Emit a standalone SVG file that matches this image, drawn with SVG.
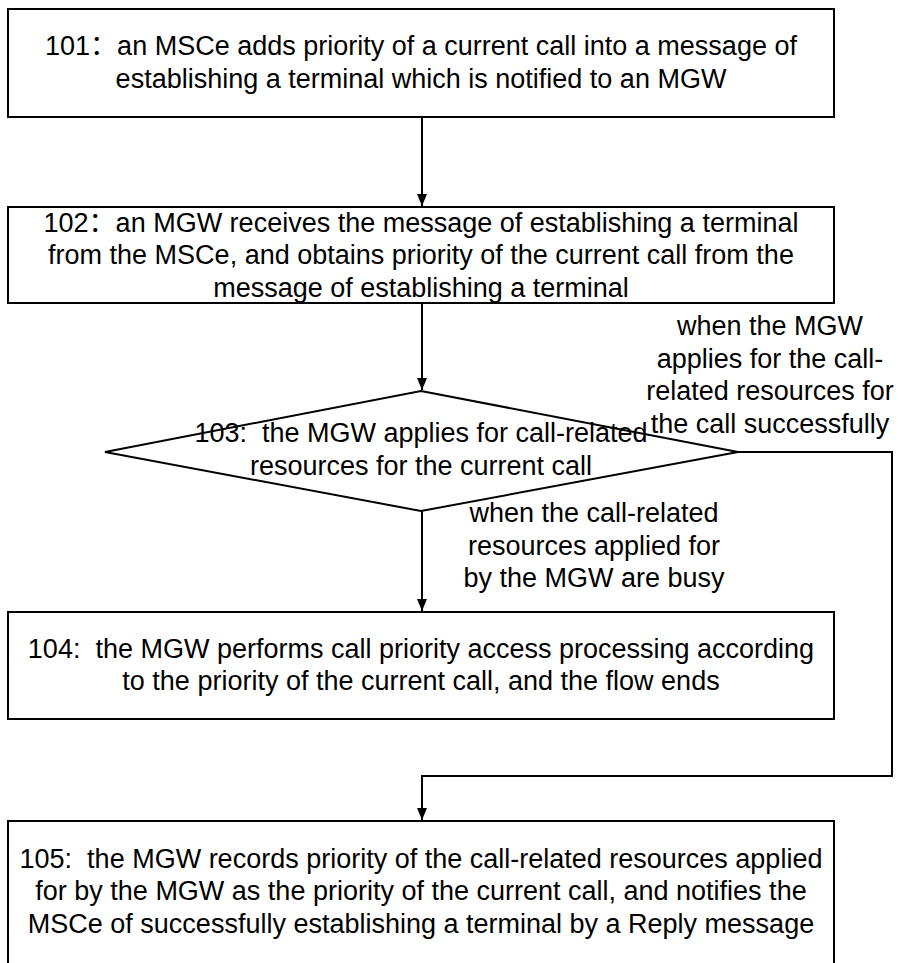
<svg xmlns="http://www.w3.org/2000/svg" width="899" height="963" viewBox="0 0 899 963">
<style>
  .box { fill: #fff; stroke: #000; stroke-width: 2; }
  .ln { fill: none; stroke: #000; stroke-width: 2; }
  text { font-family: "Liberation Sans", Arial, "Noto Sans CJK SC", sans-serif; font-size: 27px; fill: #000; text-anchor: middle; white-space: pre; }
</style>
<defs>
  <marker id="arr" viewBox="0 0 12 10" refX="12" refY="5" markerWidth="12" markerHeight="10" markerUnits="userSpaceOnUse" orient="auto">
    <path d="M0,0 L12,5 L0,10 Z" fill="#000"/>
  </marker>
</defs>
<rect width="899" height="963" fill="#fff"/>
<g id="connectors">
  <line class="ln" x1="422" y1="117" x2="422" y2="206" marker-end="url(#arr)"/>
  <line class="ln" x1="422" y1="303" x2="422" y2="390" marker-end="url(#arr)"/>
  <line class="ln" x1="422" y1="511" x2="422" y2="611" marker-end="url(#arr)"/>
  <polyline class="ln" points="738,452 892,452 892,776 422,776 422,820" marker-end="url(#arr)"/>
</g>
<g id="n101">
  <rect class="box" x="8" y="9" width="826" height="108"/>
  <text x="421" y="55">101：an MSCe adds priority of a current call into a message of</text>
  <text x="421" y="88">establishing a terminal which is notified to an MGW</text>
</g>
<g id="n102">
  <rect class="box" x="8" y="207" width="826" height="96"/>
  <text x="421" y="232">102：an MGW receives the message of establishing a terminal</text>
  <text x="421" y="264">from the MSCe, and obtains priority of the current call from the</text>
  <text x="421" y="297">message of establishing a terminal</text>
</g>
<g id="n103">
  <polygon class="box" points="421,391 738,452 421,511 105,452"/>
  <text x="421" y="442">103:  the MGW applies for call-related</text>
  <text x="421" y="475">resources for the current call</text>
</g>
<g id="label-success">
  <text x="770" y="335">when the MGW</text>
  <text x="770" y="368">applies for the call-</text>
  <text x="770" y="400">related resources for</text>
  <text x="770" y="433">the call successfully</text>
</g>
<g id="label-busy">
  <text x="594" y="522">when the call-related</text>
  <text x="594" y="555">resources applied for</text>
  <text x="594" y="587">by the MGW are busy</text>
</g>
<g id="n104">
  <rect class="box" x="8" y="612" width="826" height="107"/>
  <text x="421" y="658">104:  the MGW performs call priority access processing according</text>
  <text x="421" y="690">to the priority of the current call, and the flow ends</text>
</g>
<g id="n105">
  <rect class="box" x="8" y="821" width="826" height="160"/>
  <text x="421" y="868">105:  the MGW records priority of the call-related resources applied</text>
  <text x="421" y="900">for by the MGW as the priority of the current call, and notifies the</text>
  <text x="421" y="933">MSCe of successfully establishing a terminal by a Reply message</text>
</g>
</svg>
